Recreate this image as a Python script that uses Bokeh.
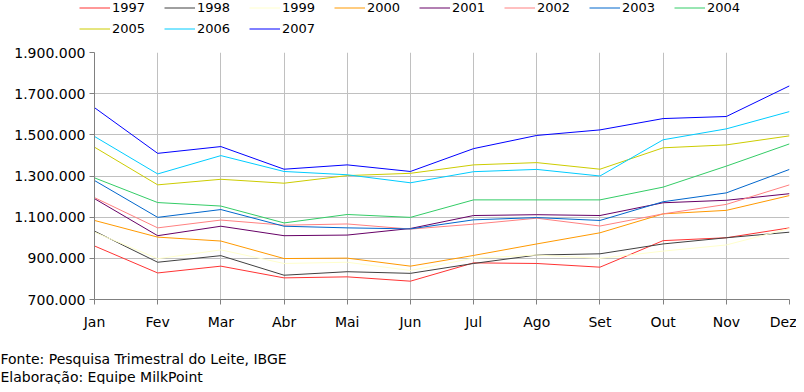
from bokeh.plotting import figure
from bokeh.layouts import column
from bokeh.models import FixedTicker, Legend, LegendItem, Title, Range1d
from bokeh.embed import file_html
from bokeh.resources import INLINE

months = ["Jan", "Fev", "Mar", "Abr", "Mai", "Jun", "Jul", "Ago", "Set", "Out", "Nov", "Dez"]
years = ["1997", "1998", "1999", "2000", "2001", "2002", "2003", "2004", "2005", "2006", "2007"]

s1997 = [960000, 829000, 862000, 805000, 810000, 789000, 878000, 875000, 857000, 986000, 1000000, 1048000]
s1998 = [1032000, 881000, 913000, 818000, 835000, 827000, 875000, 916000, 922000, 970000, 1000000, 1027000]
s1999 = [1027000, 898000, 941000, 875000, 881000, 841000, 901000, 916000, 900000, 935000, 965000, 1045000]
s2000 = [1084000, 1003000, 984000, 899000, 901000, 862000, 914000, 970000, 1024000, 1116000, 1133000, 1205000]
s2001 = [1190000, 1010000, 1056000, 1010000, 1013000, 1045000, 1108000, 1112000, 1108000, 1170000, 1182000, 1214000]
s2002 = [1195000, 1048000, 1086000, 1061000, 1067000, 1042000, 1066000, 1095000, 1057000, 1116000, 1162000, 1257000]
s2003 = [1278000, 1099000, 1137000, 1056000, 1048000, 1043000, 1087000, 1098000, 1084000, 1175000, 1218000, 1332000]
s2004 = [1291000, 1171000, 1154000, 1072000, 1113000, 1099000, 1184000, 1184000, 1184000, 1246000, 1348000, 1456000]
s2005 = [1440000, 1257000, 1284000, 1265000, 1302000, 1313000, 1354000, 1365000, 1333000, 1437000, 1451000, 1495000]
s2006 = [1492000, 1310000, 1399000, 1322000, 1306000, 1267000, 1321000, 1332000, 1300000, 1476000, 1529000, 1613000]
s2007 = [1632000, 1410000, 1443000, 1333000, 1354000, 1322000, 1433000, 1497000, 1524000, 1579000, 1589000, 1738000]

series = [s1997, s1998, s1999, s2000, s2001, s2002, s2003, s2004, s2005, s2006, s2007]
colors = ["#ff3333", "#404040", "#ffffcc", "#ff9900", "#660066", "#ff8080",
          "#0066cc", "#33cc66", "#cccc00", "#00ccff", "#0000ff"]

y_ticks = [700000, 900000, 1100000, 1300000, 1500000, 1700000, 1900000]
y_tick_labels = ["700.000", "900.000", "1.100.000", "1.300.000", "1.500.000", "1.700.000", "1.900.000"]

footer_lines = ["Fonte: Pesquisa Trimestral do Leite, IBGE", "Elaboração: Equipe MilkPoint"]

FONT = "DejaVu Sans"
W = 796
LEG_H = 44
MAIN_H = 340
LEFT, RIGHT, TOP, BOTTOM = 94, 7, 8, 80
xs = list(range(len(months)))

# ---- legend strip: its own figure so that the legend is not clipped by the chart frame
lf = figure(width=W, height=LEG_H, output_backend="svg", toolbar_location=None,
            x_range=Range1d(0, 11), y_range=Range1d(0, 1),
            min_border=0, x_axis_type=None, y_axis_type=None)
lf.outline_line_color = None
lf.xgrid.visible = False
lf.ygrid.visible = False
# legend keys (the series lie outside this strip's 0..1 range, so only the keys show)
proxies = [lf.line(xs, d, line_color=c, line_width=1) for d, c in zip(series, colors)]
items = [LegendItem(label=yr, renderers=[r]) for yr, r in zip(years, proxies)]


def make_legend(its, top):
    return Legend(items=its, orientation="horizontal",
                  location=(79, LEG_H - top - 15),
                  padding=0, margin=0, spacing=18, label_standoff=2,
                  glyph_width=31, glyph_height=15, label_height=15, label_width=34,
                  border_line_color=None, background_fill_alpha=0,
                  label_text_font=FONT, label_text_font_size="13px", label_text_color="black")


lf.add_layout(make_legend(items[:8], 0), "center")
lf.add_layout(make_legend(items[8:], 21), "center")

# ---- main chart
p = figure(width=W, height=MAIN_H, output_backend="svg", toolbar_location=None,
           x_range=Range1d(0, 11), y_range=Range1d(700000, 1900000),
           min_border_left=LEFT, min_border_right=RIGHT, min_border_top=TOP,
           min_border_bottom=BOTTOM)
p.outline_line_color = None
p.background_fill_color = "white"
p.border_fill_color = "white"

for yr, data, col in zip(years, series, colors):
    p.line(xs, data, line_color=col, line_width=1)

p.xaxis.ticker = FixedTicker(ticks=xs)
p.xaxis.major_label_overrides = {i: m for i, m in enumerate(months)}
p.yaxis.ticker = FixedTicker(ticks=y_ticks)
p.yaxis.major_label_overrides = {t: l for t, l in zip(y_ticks, y_tick_labels)}
for ax in (p.xaxis, p.yaxis):
    ax.axis_line_color = "#808080"
    ax.major_tick_line_color = "#808080"
    ax.minor_tick_line_color = None
    ax.major_tick_in = 0
    ax.major_tick_out = 5
    ax.major_label_text_font = FONT
    ax.major_label_text_font_size = "14px"
    ax.major_label_text_color = "black"
p.xaxis.major_label_standoff = 9
p.yaxis.major_label_standoff = 4

p.xgrid.ticker = FixedTicker(ticks=xs)
p.ygrid.ticker = FixedTicker(ticks=y_ticks)
p.xgrid.grid_line_color = "#c0c0c0"
p.ygrid.grid_line_color = "#c0c0c0"

# footer: small spacer, then the two source lines
p.add_layout(Title(text=" ", standoff=0, text_font=FONT, text_font_size="12px"), "below")
for txt in footer_lines:
    p.add_layout(Title(text=txt, align="left", offset=-LEFT, standoff=0,
                       text_font=FONT, text_font_size="14px", text_font_style="normal",
                       text_color="black"), "below")

for fig in (lf, p):
    if hasattr(fig, "frame_align"):
        fig.frame_align = False

layout = column(lf, p, spacing=0)
open("out.html", "w").write(file_html(layout, INLINE))
